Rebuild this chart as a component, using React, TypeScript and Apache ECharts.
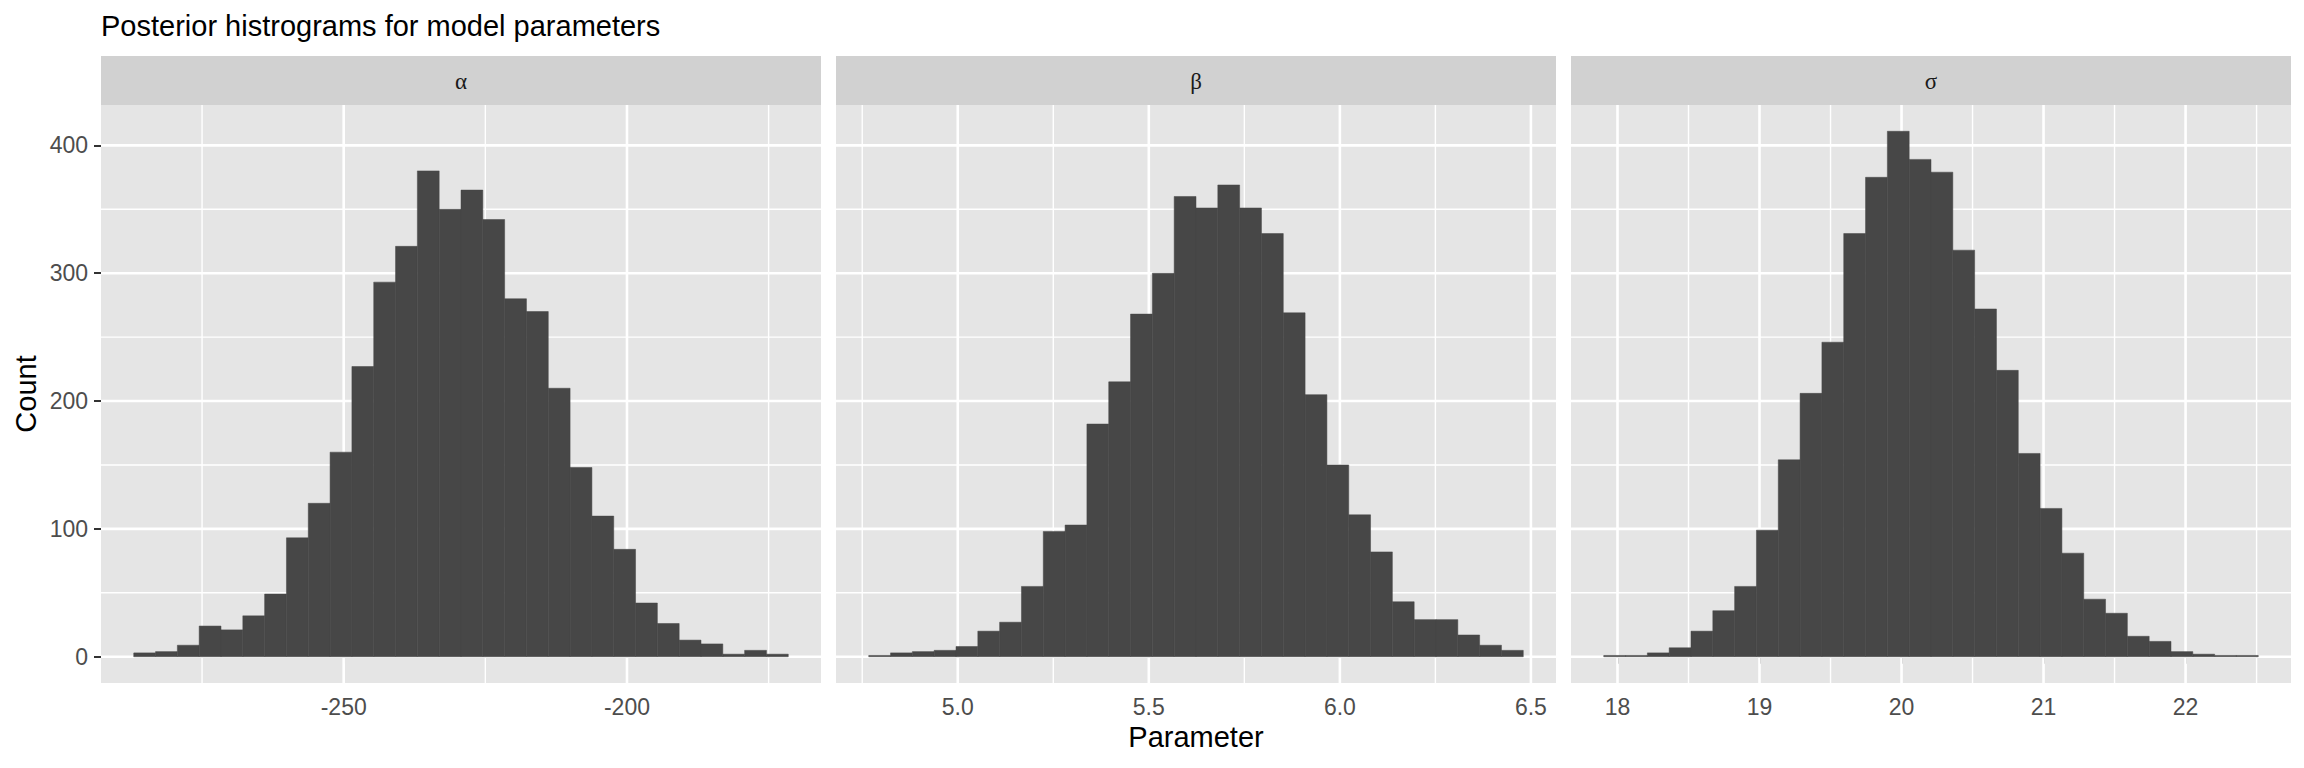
import React, { useEffect, useRef } from "react";
import * as echarts from "echarts";

// ---------- text ----------
const TITLE = "Posterior histrograms for model parameters";
const X_TITLE = "Parameter";
const Y_TITLE = "Count";
const PARAM_LABELS = ["α", "β", "σ"];

// ---------- histogram counts (30 bins each) ----------
const ALPHA_COUNTS = [3, 4, 9, 24, 21, 32, 49, 93, 120, 160, 227, 293, 321, 380, 350, 365, 342, 280, 270, 210, 148, 110, 84, 42, 26, 13, 10, 2, 5, 2];
const BETA_COUNTS = [1, 3, 4, 5, 8, 20, 27, 55, 98, 103, 182, 215, 268, 300, 360, 351, 369, 351, 331, 269, 205, 150, 111, 82, 43, 29, 29, 17, 9, 5];
const SIGMA_COUNTS = [1, 1, 3, 7, 20, 36, 55, 99, 154, 206, 246, 331, 375, 411, 389, 379, 318, 272, 224, 159, 116, 81, 45, 34, 16, 12, 4, 2, 1, 1];

// outer edges of the first and last bins
const ALPHA_BINS = [-287.06, -171.53];
const BETA_BINS = [4.767, 6.48];
const SIGMA_BINS = [17.903, 22.512];

// ---------- ticks ----------
const ALPHA_TICKS = [-250, -200];
const ALPHA_MINOR = [-275, -225, -175];
const BETA_TICKS = [5.0, 5.5, 6.0, 6.5];
const BETA_MINOR = [4.75, 5.25, 5.75, 6.25];
const SIGMA_TICKS = [18, 19, 20, 21, 22];
const SIGMA_MINOR = [18.5, 19.5, 20.5, 21.5, 22.5];
const COUNT_TICKS = [0, 100, 200, 300, 400];
const COUNT_MINOR = [50, 150, 250, 350];

// ---------- styling / layout ----------
const PANEL_LEFT = 101;
const PANEL_W = 720;
const PANEL_GAP = 15;
const STRIP_TOP = 56;
const STRIP_H = 49;
const PANEL_TOP = 105;
const PANEL_H = 578;
const SANS = "'Liberation Sans', Arial, Helvetica, sans-serif";
const SERIF = "'Liberation Serif', 'DejaVu Serif', serif";
const BAR_COLOR = "#474747";
const PANEL_BG = "#E5E5E5";
const STRIP_BG = "#D1D1D1";
const TICK_TEXT = "#4D4D4D";
const TICK_LINE = "#333333";

const PANELS = [
  { label: PARAM_LABELS[0], counts: ALPHA_COUNTS, bins: ALPHA_BINS, ticks: ALPHA_TICKS, minor: ALPHA_MINOR, decimals: 0 },
  { label: PARAM_LABELS[1], counts: BETA_COUNTS, bins: BETA_BINS, ticks: BETA_TICKS, minor: BETA_MINOR, decimals: 1 },
  { label: PARAM_LABELS[2], counts: SIGMA_COUNTS, bins: SIGMA_BINS, ticks: SIGMA_TICKS, minor: SIGMA_MINOR, decimals: 0 },
];

function buildOption() {
  const maxCount = Math.max(...ALPHA_COUNTS, ...BETA_COUNTS, ...SIGMA_COUNTS);
  const yMin = -0.05 * maxCount;
  const yMax = 1.05 * maxCount;

  const grids: any[] = [];
  const xAxes: any[] = [];
  const yAxes: any[] = [];
  const series: any[] = [];
  const graphics: any[] = [];

  PANELS.forEach((p, i) => {
    const left = PANEL_LEFT + i * (PANEL_W + PANEL_GAP);
    const [b0, b1] = p.bins;
    const span = b1 - b0;
    const xMin = b0 - 0.05 * span;
    const xMax = b1 + 0.05 * span;
    const n = p.counts.length;
    const w = span / n;

    grids.push({
      left,
      top: PANEL_TOP,
      width: PANEL_W,
      height: PANEL_H,
      show: true,
      backgroundColor: PANEL_BG,
      borderWidth: 0,
      containLabel: false,
      outerBoundsMode: "none",
    });

    xAxes.push({
      type: "value",
      gridIndex: i,
      min: xMin,
      max: xMax,
      axisLine: { show: false },
      splitLine: { show: false },
      axisTick: {
        show: true,
        customValues: p.ticks,
        length: 7,
        lineStyle: { color: TICK_LINE, width: 2 },
      },
      axisLabel: {
        show: true,
        customValues: p.ticks,
        margin: 12,
        fontSize: 23,
        fontFamily: SANS,
        color: TICK_TEXT,
        formatter: (v: number) => v.toFixed(p.decimals),
      },
    });

    yAxes.push({
      type: "value",
      gridIndex: i,
      min: yMin,
      max: yMax,
      axisLine: { show: false },
      splitLine: { show: false },
      axisTick: {
        show: i === 0,
        customValues: COUNT_TICKS,
        length: 7,
        lineStyle: { color: TICK_LINE, width: 2 },
      },
      axisLabel: {
        show: i === 0,
        customValues: COUNT_TICKS,
        margin: 13,
        fontSize: 23,
        fontFamily: SANS,
        color: TICK_TEXT,
      },
    });

    const vLines = (values: number[], width: number) => ({
      type: "custom",
      xAxisIndex: i,
      yAxisIndex: i,
      z: 1,
      silent: true,
      data: values.map((v) => [v, 0]),
      encode: { x: 0, y: 1 },
      renderItem: (params: any, api: any) => {
        const cs = params.coordSys;
        const pt = api.coord([api.value(0), 0]);
        return {
          type: "line",
          shape: { x1: pt[0], y1: cs.y, x2: pt[0], y2: cs.y + cs.height },
          style: { stroke: "#FFFFFF", lineWidth: width },
        };
      },
    });
    const hLines = (values: number[], width: number) => ({
      type: "custom",
      xAxisIndex: i,
      yAxisIndex: i,
      z: 1,
      silent: true,
      data: values.map((v) => [(xMin + xMax) / 2, v]),
      encode: { x: 0, y: 1 },
      renderItem: (params: any, api: any) => {
        const cs = params.coordSys;
        const pt = api.coord([api.value(0), api.value(1)]);
        return {
          type: "line",
          shape: { x1: cs.x, y1: pt[1], x2: cs.x + cs.width, y2: pt[1] },
          style: { stroke: "#FFFFFF", lineWidth: width },
        };
      },
    });

    series.push(hLines(COUNT_MINOR, 1.4));
    series.push(vLines(p.minor, 1.4));
    series.push(hLines(COUNT_TICKS, 2.6));
    series.push(vLines(p.ticks, 2.6));

    series.push({
      type: "custom",
      name: p.label,
      xAxisIndex: i,
      yAxisIndex: i,
      z: 2,
      data: p.counts.map((c, k) => [b0 + k * w, b0 + (k + 1) * w, c]),
      encode: { x: [0, 1], y: 2 },
      renderItem: (_params: any, api: any) => {
        const c = api.value(2);
        if (!c) return null;
        const tl = api.coord([api.value(0), c]);
        const br = api.coord([api.value(1), 0]);
        return {
          type: "rect",
          shape: { x: tl[0], y: tl[1], width: br[0] - tl[0], height: br[1] - tl[1] },
          style: { fill: BAR_COLOR, stroke: BAR_COLOR, lineWidth: 0.5 },
        };
      },
    });

    // facet strip
    graphics.push({
      type: "rect",
      shape: { x: left, y: STRIP_TOP, width: PANEL_W, height: STRIP_H },
      style: { fill: STRIP_BG },
      silent: true,
    });
    graphics.push({
      type: "text",
      x: left + PANEL_W / 2,
      y: STRIP_TOP + STRIP_H / 2 + 1,
      style: {
        text: p.label,
        fontSize: 23,
        fontFamily: SERIF,
        fill: "#1A1A1A",
        align: "center",
        verticalAlign: "middle",
      },
      silent: true,
    });
  });

  const totalRight = PANEL_LEFT + 3 * PANEL_W + 2 * PANEL_GAP;

  graphics.push({
    type: "text",
    x: PANEL_LEFT,
    y: 26,
    style: {
      text: TITLE,
      fontSize: 29,
      fontFamily: SANS,
      fill: "#000000",
      align: "left",
      verticalAlign: "middle",
    },
    silent: true,
  });
  graphics.push({
    type: "text",
    x: (PANEL_LEFT + totalRight) / 2,
    y: 737,
    style: {
      text: X_TITLE,
      fontSize: 29,
      fontFamily: SANS,
      fill: "#000000",
      align: "center",
      verticalAlign: "middle",
    },
    silent: true,
  });
  graphics.push({
    type: "text",
    x: 26,
    y: PANEL_TOP + PANEL_H / 2,
    rotation: Math.PI / 2,
    style: {
      text: Y_TITLE,
      fontSize: 29,
      fontFamily: SANS,
      fill: "#000000",
      align: "center",
      verticalAlign: "middle",
    },
    silent: true,
  });

  return {
    animation: false,
    backgroundColor: "#FFFFFF",
    grid: grids,
    xAxis: xAxes,
    yAxis: yAxes,
    series,
    graphic: graphics,
  };
}

export default function App() {
  const ref = useRef<HTMLDivElement>(null);
  useEffect(() => {
    if (!ref.current) return;
    const chart = echarts.init(ref.current, null, { renderer: "svg" });
    chart.setOption(buildOption() as any);
    return () => chart.dispose();
  }, []);
  return (
    <div
      ref={ref}
      style={{ position: "fixed", left: 0, top: 0, width: 2304, height: 768, background: "#FFFFFF" }}
    />
  );
}
